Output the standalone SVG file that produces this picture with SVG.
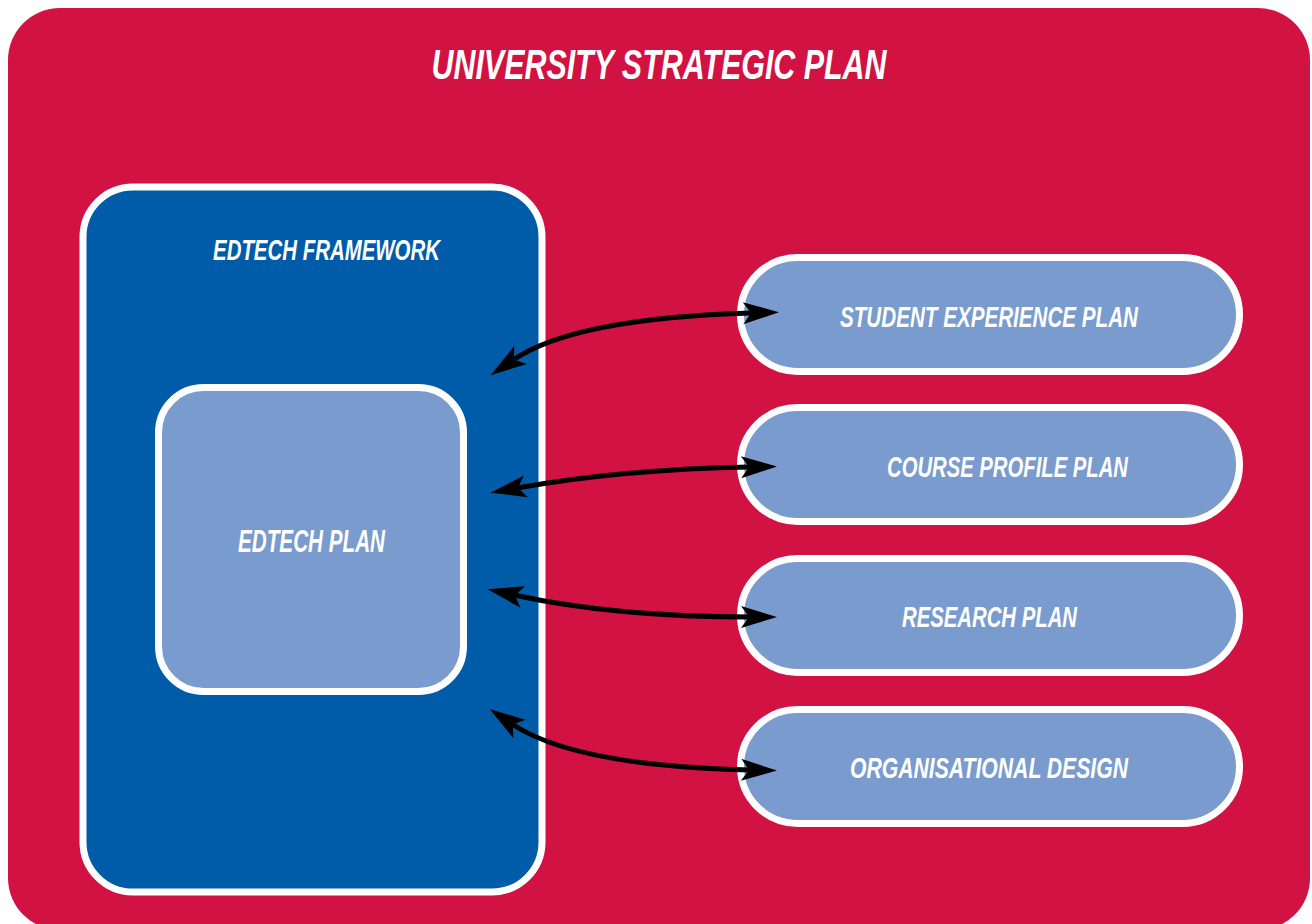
<svg xmlns="http://www.w3.org/2000/svg" width="1312" height="924" viewBox="0 0 1312 924">
  <style>
    .lbl { font-family: "Liberation Sans", Arial, sans-serif; font-weight: bold; font-style: italic; fill: #ffffff; }
    .frame { fill: #005ca8; stroke: #ffffff; stroke-width: 7; }
    .plan { fill: #7a9bcd; stroke: #ffffff; stroke-width: 7; }
    .link { fill: none; stroke: #000000; stroke-width: 5; marker-start: url(#head); marker-end: url(#head); }
  </style>
  <defs>
    <!-- swept-back arrowhead; ref point sits at the notch so the shaft hides under it -->
    <marker id="head" viewBox="-1 -12 38 24" refX="9" refY="0" markerWidth="38" markerHeight="24" markerUnits="userSpaceOnUse" orient="auto-start-reverse">
      <path d="M36,0 L0,-11 L8,0 L0,11 Z" fill="#000000"/>
    </marker>
  </defs>

  <rect width="1312" height="924" fill="#ffffff"/>

  <!-- outer plan -->
  <g id="university-strategic-plan">
    <rect x="8" y="8" width="1302" height="922" rx="52" fill="#d21242"/>
    <text class="lbl" x="659" y="79" font-size="43" text-anchor="middle" textLength="455" lengthAdjust="spacingAndGlyphs">UNIVERSITY STRATEGIC PLAN</text>
  </g>

  <g id="edtech-framework">
    <rect class="frame" x="83" y="187" width="459" height="705" rx="50"/>
    <text class="lbl" x="326.5" y="260" font-size="30" text-anchor="middle" textLength="227" lengthAdjust="spacingAndGlyphs">EDTECH FRAMEWORK</text>
  </g>

  <g id="edtech-plan">
    <rect class="plan" x="158.5" y="387.5" width="305" height="304" rx="45"/>
    <text class="lbl" x="311.5" y="552" font-size="32" text-anchor="middle" textLength="147" lengthAdjust="spacingAndGlyphs">EDTECH PLAN</text>
  </g>

  <g id="student-experience-plan">
    <rect class="plan" x="740.5" y="257.5" width="499" height="114" rx="57"/>
    <text class="lbl" x="989" y="327" font-size="30" text-anchor="middle" textLength="298" lengthAdjust="spacingAndGlyphs">STUDENT EXPERIENCE PLAN</text>
  </g>

  <g id="course-profile-plan">
    <rect class="plan" x="740.5" y="407.5" width="499" height="114" rx="57"/>
    <text class="lbl" x="1007.5" y="477" font-size="30" text-anchor="middle" textLength="241" lengthAdjust="spacingAndGlyphs">COURSE PROFILE PLAN</text>
  </g>

  <g id="research-plan">
    <rect class="plan" x="740.5" y="558.5" width="499" height="114" rx="57"/>
    <text class="lbl" x="989.5" y="627" font-size="30" text-anchor="middle" textLength="175" lengthAdjust="spacingAndGlyphs">RESEARCH PLAN</text>
  </g>

  <g id="organisational-design">
    <rect class="plan" x="740.5" y="709.5" width="499" height="114" rx="57"/>
    <text class="lbl" x="989" y="778" font-size="30" text-anchor="middle" textLength="278" lengthAdjust="spacingAndGlyphs">ORGANISATIONAL DESIGN</text>
  </g>

  <!-- two-way links between the framework and each plan -->
  <g id="connectors">
    <path class="link" d="M513 360 Q575 318 752 313"/>
    <path class="link" d="M517 488 Q625 469 750 467"/>
    <path class="link" d="M514 595 Q615 617 750 617"/>
    <path class="link" d="M512 724 Q575 766 750 770"/>
  </g>
</svg>
